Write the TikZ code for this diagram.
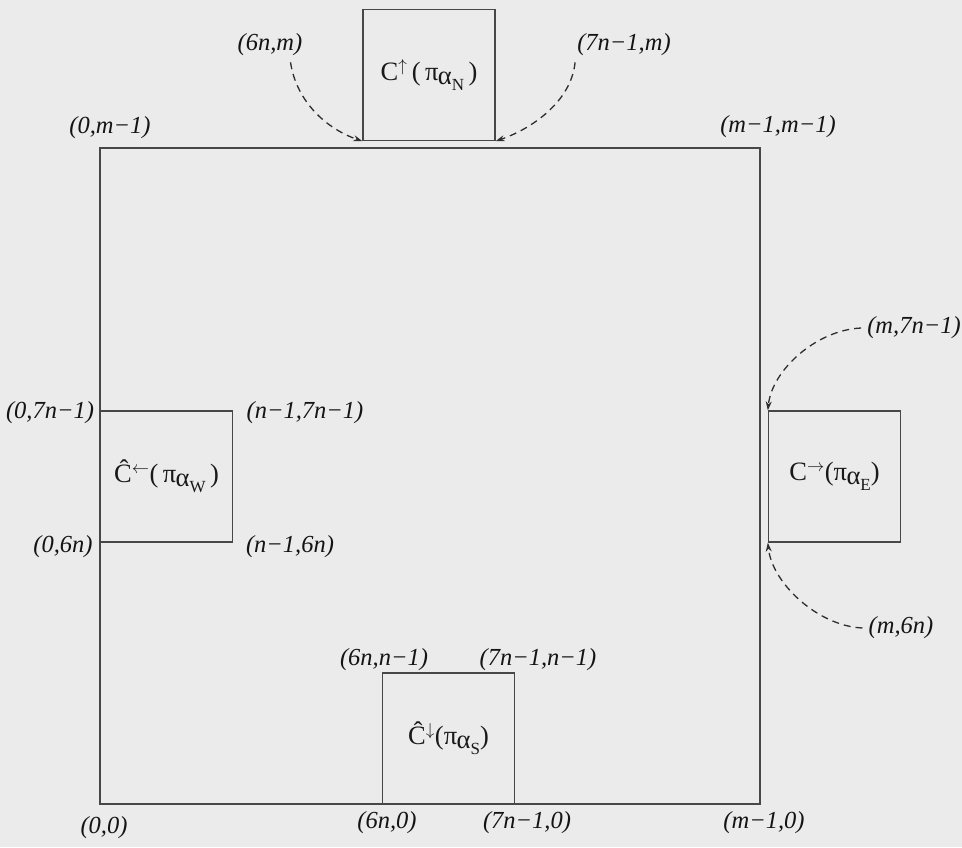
\documentclass[tikz,border=0pt]{standalone}
\usepackage{fontspec}
\setmainfont{Liberation Serif}
\usetikzlibrary{arrows.meta}
\newcommand{\pa}[1]{π\hspace{-0.5pt}\raisebox{-0.35ex}{α\raisebox{-0.5ex}{\fontsize{17}{18}\selectfont #1}}}
\begin{document}
\begin{tikzpicture}[x=1pt,y=-1pt,
  box/.style={draw=black!72, line width=1.3pt, inner sep=0pt, minimum width=132pt, minimum height=131pt,
    font=\fontsize{26.5}{30}\selectfont, text=black!90},
  lbl/.style={font=\fontsize{24.5}{28}\selectfont\itshape, text=black!92, inner sep=0pt},
  darr/.style={draw=black!82, line width=1.3pt, dash pattern=on 7pt off 5pt, -{Stealth[length=9pt,width=6pt]}}]
\fill[black!8] (0,0) rectangle (962,847);
\useasboundingbox (0,0) rectangle (962,847);
% boxes
\node[box, minimum width=660pt, minimum height=656pt] (main) at (430,476) {};
\node[box, fill=black!8] (north) at (429,75) {C$^{\uparrow}$\,(\,\pa{N}\,)};
\node[box] (west) at (166.5,476.5) {Ĉ$^{\leftarrow}$(\,\pa{W}\,)};
\node[box] (east) at (834.5,476.5) {C$^{\rightarrow}$(\pa{E})};
\node[box] (south) at (448.5,738.5) {Ĉ$^{\downarrow}$(\pa{S})};
% labels
\node[lbl] (l6nm) at (270,45) {(6n,m)};
\node[lbl] (l7nm) at (624,45) {(7n−1,m)};
\node[lbl] (l0m) at (110,128) {(0,m−1)};
\node[lbl] (lmm) at (778,127) {(m−1,m−1)};
\node[lbl] (lm7n) at (914,328) {(m,7n−1)};
\node[lbl] (l07n) at (50,413) {(0,7n−1)};
\node[lbl] (ln7n) at (305,413) {(n−1,7n−1)};
\node[lbl] (l06n) at (63,547) {(0,6n)};
\node[lbl] (ln6n) at (290,547) {(n−1,6n)};
\node[lbl] (lm6n) at (901,628) {(m,6n)};
\node[lbl] (l6nn) at (384,660) {(6n,n−1)};
\node[lbl] (l7nn) at (538,660) {(7n−1,n−1)};
\node[lbl] (l00) at (104,828) {(0,0)};
\node[lbl] (l6n0) at (387,823) {(6n,0)};
\node[lbl] (l7n0) at (527,823) {(7n−1,0)};
\node[lbl] (lm0) at (764,823) {(m−1,0)};
% dashed connectors
\draw[darr] ([shift={(-12,6)}]l6nm.south east) .. controls +(6,40) and +(-35,-12) .. (north.south west);
\draw[darr] ([shift={(-2,6)}]l7nm.south west) .. controls +(-4,40) and +(35,-12) .. (north.south east);
\draw[darr] ([shift={(-6,0)}]lm7n.west) .. controls +(-45,2) and +(4,-40) .. (east.north west);
\draw[darr] ([shift={(-6,0)}]lm6n.west) .. controls +(-45,-2) and +(4,40) .. (east.south west);
\end{tikzpicture}
\end{document}
